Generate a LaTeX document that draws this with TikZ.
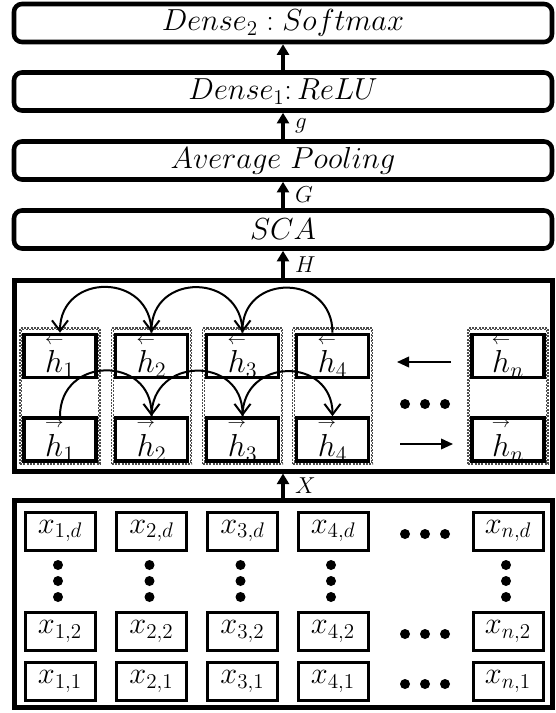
\documentclass[tikz,border=0pt]{standalone}
\usepackage{amsmath}
\usepackage{graphicx}
\usetikzlibrary{arrows.meta}
\newcommand{\lh}[1]{\scalebox{1.15}{$\overset{\scriptscriptstyle\leftarrow}{h}_{#1}$}}
\newcommand{\rh}[1]{\scalebox{1.15}{$\overset{\scriptscriptstyle\rightarrow}{h}_{#1}$}}
\newcommand{\bt}[1]{\scalebox{1.1}{$#1$}}
\begin{document}
\begin{tikzpicture}[x=0.75pt,y=-0.75pt,
  topbox/.style={draw, line width=3.4pt, rounded corners=6pt, minimum width=403.5pt, minimum height=28.5pt, inner sep=0pt, font=\huge},
  outerframe/.style={draw, line width=3.75pt, minimum width=403.5pt, inner sep=0pt},
  hbox/.style={draw, line width=2.6pt, minimum width=54pt, minimum height=31.5pt, inner sep=0pt, font=\huge},
  xbox/.style={draw, line width=2.25pt, minimum width=52.5pt, minimum height=28.5pt, inner sep=0pt, font=\huge},
  grp/.style={draw=black!70, dash pattern=on 1.6pt off 0.9pt, line width=0.9pt, minimum width=60pt, minimum height=102pt, inner sep=0pt},
  grpin/.style={draw=black!70, dash pattern=on 1.6pt off 0.9pt, line width=0.5pt, minimum width=57.5pt, minimum height=99.5pt, inner sep=0pt},
  uparr/.style={line width=2.3pt, -{Triangle[length=8pt,width=9pt]}},
  lab/.style={right, font=\LARGE, inner sep=0pt, xshift=8pt},
  arcarr/.style={line width=1.5pt, -{Straight Barb[length=8pt,width=12pt]}},
  thinarr/.style={line width=1.2pt, -{Triangle[length=9pt,width=8pt]}},
  bigdot/.style={circle, fill, inner sep=0pt, minimum size=7.5pt}
]
\useasboundingbox (0,0) rectangle (556,713);

% top stack
\node[topbox] (d2) at (283,23) {\bt{Dense_2 : Softmax}};
\node[topbox] (d1) at (283,91.5) {\bt{Dense_1{:}\,ReLU}};
\node[topbox] (avg) at (283,160.5) {\bt{Average\ Pooling}};
\node[topbox] (sca) at (283,229.5) {\bt{SCA}};

% BiLSTM frame
\node[outerframe, minimum height=143.25pt] (bil) at (283,375.5) {};
% input frame
\node[outerframe, minimum height=155.25pt] (inp) at (283,603.5) {};

\draw[uparr] (d1.north) -- (d2.south);
\draw[uparr] (avg.north) -- node[lab] {$g$} (d1.south);
\draw[uparr] (sca.north) -- node[lab] {$G$} (avg.south);
\draw[uparr] (bil.north) -- node[lab] {$H$} (sca.south);
\draw[uparr] (inp.north) -- node[lab] {$X$} (bil.south);

% groups
\foreach \i/\x in {1/60,2/151.5,3/242.5,4/332.5,n/508}{
  \node[grp] (g\i) at (\x,396) {};
  \node[grpin] (gi\i) at (\x,396) {};
  \node[hbox] (hu\i) at (\x,356) {\lh{\i}};
  \node[hbox] (hd\i) at (\x,439.5) {\rh{\i}};
}

% backward arcs
\draw[arcarr] (hu4.north) to[out=90,in=90,looseness=1.7] (hu3.north);
\draw[arcarr] (hu3.north) to[out=90,in=90,looseness=1.7] (hu2.north);
\draw[arcarr] (hu2.north) to[out=90,in=90,looseness=1.7] (hu1.north);
% forward arcs
\draw[arcarr] (hd1.north) to[out=90,in=90,looseness=1.7] (hd2.north);
\draw[arcarr] (hd2.north) to[out=90,in=90,looseness=1.7] (hd3.north);
\draw[arcarr] (hd3.north) to[out=90,in=90,looseness=1.7] (hd4.north);

% direction arrows
\coordinate (la) at (451,362);
\coordinate (lb) at (397,362);
\coordinate (ra) at (400,444);
\coordinate (rb) at (453,444);
\draw[thinarr] (la) -- (lb);
\draw[thinarr] (ra) -- (rb);
\foreach \x [count=\k] in {405,425,445}{
  \node[bigdot] (hdot\k) at (\x,404) {};
}

% input grid
\foreach \i/\x in {1/60,2/151.5,3/242.5,4/333,n/508}{
  \node[xbox] (xd\i) at (\x,531) {\bt{x_{\i,d}}};
  \node[xbox] (xb\i) at (\x,631.5) {\bt{x_{\i,2}}};
  \node[xbox] (xa\i) at (\x,681.5) {\bt{x_{\i,1}}};
  \foreach \y [count=\k] in {565,581,597}{
    \node[bigdot] (vd\i\k) at (\x-2,\y) {};
  }
}
\foreach \x [count=\k] in {405,425,445}{
  \node[bigdot] (rd\k) at (\x,534) {};
  \node[bigdot] (rb\k) at (\x,634) {};
  \node[bigdot] (ra\k) at (\x,684) {};
}
\end{tikzpicture}
\end{document}
